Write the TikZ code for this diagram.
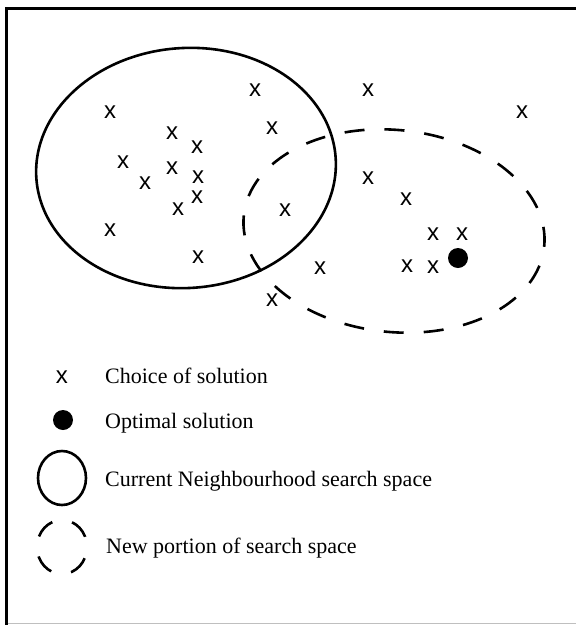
\documentclass[tikz,border=0pt]{standalone}
\usepackage{fontspec}
\setmainfont{Liberation Serif}
\newfontfamily\markfont{Liberation Sans}
\tikzset{x=1pt, y=1pt, % One unit is one pixel of the page
choice/.style={ % A single choice of solution
inner sep=0pt,
font=\markfont\fontsize{24}{24}\selectfont},
optimum/.style={ % The optimal solution
circle, fill=black, inner sep=0pt, minimum size=20pt},
current space/.style={ % Current neighbourhood search space
draw, line width=2.6pt},
new space/.style={ % New portion of search space
draw, line width=2.6pt, dash pattern=on 20pt off 20pt},
legend text/.style={ % Text of the key below the plot
anchor=base west, inner sep=0pt,
font=\fontsize{22}{26}\selectfont}}

\begin{document}
\begin{tikzpicture}

    \useasboundingbox (0,0) rectangle (576,-625);
    \draw[line width=3pt] (6.5,-625) -- (6.5,-8.5) -- (576,-8.5);
    \draw[black!25, line width=1.5pt] (8,-623.5) -- (576,-623.5);

    \draw[current space, rotate around={4:(186,-168)}] (186,-168) ellipse [x radius=150, y radius=120];
    \draw[new space, rotate around={-6:(394,-231)}] (394,-231) ellipse [x radius=151, y radius=101];

    \node[choice] (c1) at (255,-90) {x};
    \node[choice] (c2) at (368,-90) {x};
    \node[choice] (c3) at (522,-112) {x};
    \node[choice] (c4) at (110,-112) {x};
    \node[choice] (c5) at (272,-128) {x};
    \node[choice] (c6) at (172,-133) {x};
    \node[choice] (c7) at (197,-147) {x};
    \node[choice] (c8) at (123,-162) {x};
    \node[choice] (c9) at (172,-168) {x};
    \node[choice] (c10) at (198,-177) {x};
    \node[choice] (c11) at (368,-178) {x};
    \node[choice] (c12) at (145,-183) {x};
    \node[choice] (c13) at (197,-197) {x};
    \node[choice] (c14) at (406,-199) {x};
    \node[choice] (c15) at (178,-209) {x};
    \node[choice] (c16) at (285,-210) {x};
    \node[choice] (c17) at (110,-230) {x};
    \node[choice] (c18) at (433,-234) {x};
    \node[choice] (c19) at (462,-234) {x};
    \node[choice] (c20) at (198,-257) {x};
    \node[choice] (c21) at (320,-268) {x};
    \node[choice] (c22) at (407,-266) {x};
    \node[choice] (c23) at (433,-267) {x};
    \node[choice] (c24) at (272,-300) {x};
    \node[optimum] (opt) at (458,-258) {};

    % key
    \node[choice] (key choice) at (62,-377) {x};
    \node[legend text] (choice text) at (105,-383) {Choice of solution};
    \node[optimum] (key opt) at (63,-420) {};
    \node[legend text] (opt text) at (105,-428) {Optimal solution};
    \draw[current space] (62,-478) ellipse [x radius=24, y radius=27];
    \node[legend text] (current text) at (105,-486) {Current Neighbourhood search space};
    \draw[new space, dash pattern=on 20pt off 20.4pt, dash phase=30] (62,-547) ellipse [x radius=25, y radius=27];
    \node[legend text] (new text) at (106,-553) {New portion of search space};

\end{tikzpicture}
\end{document}
